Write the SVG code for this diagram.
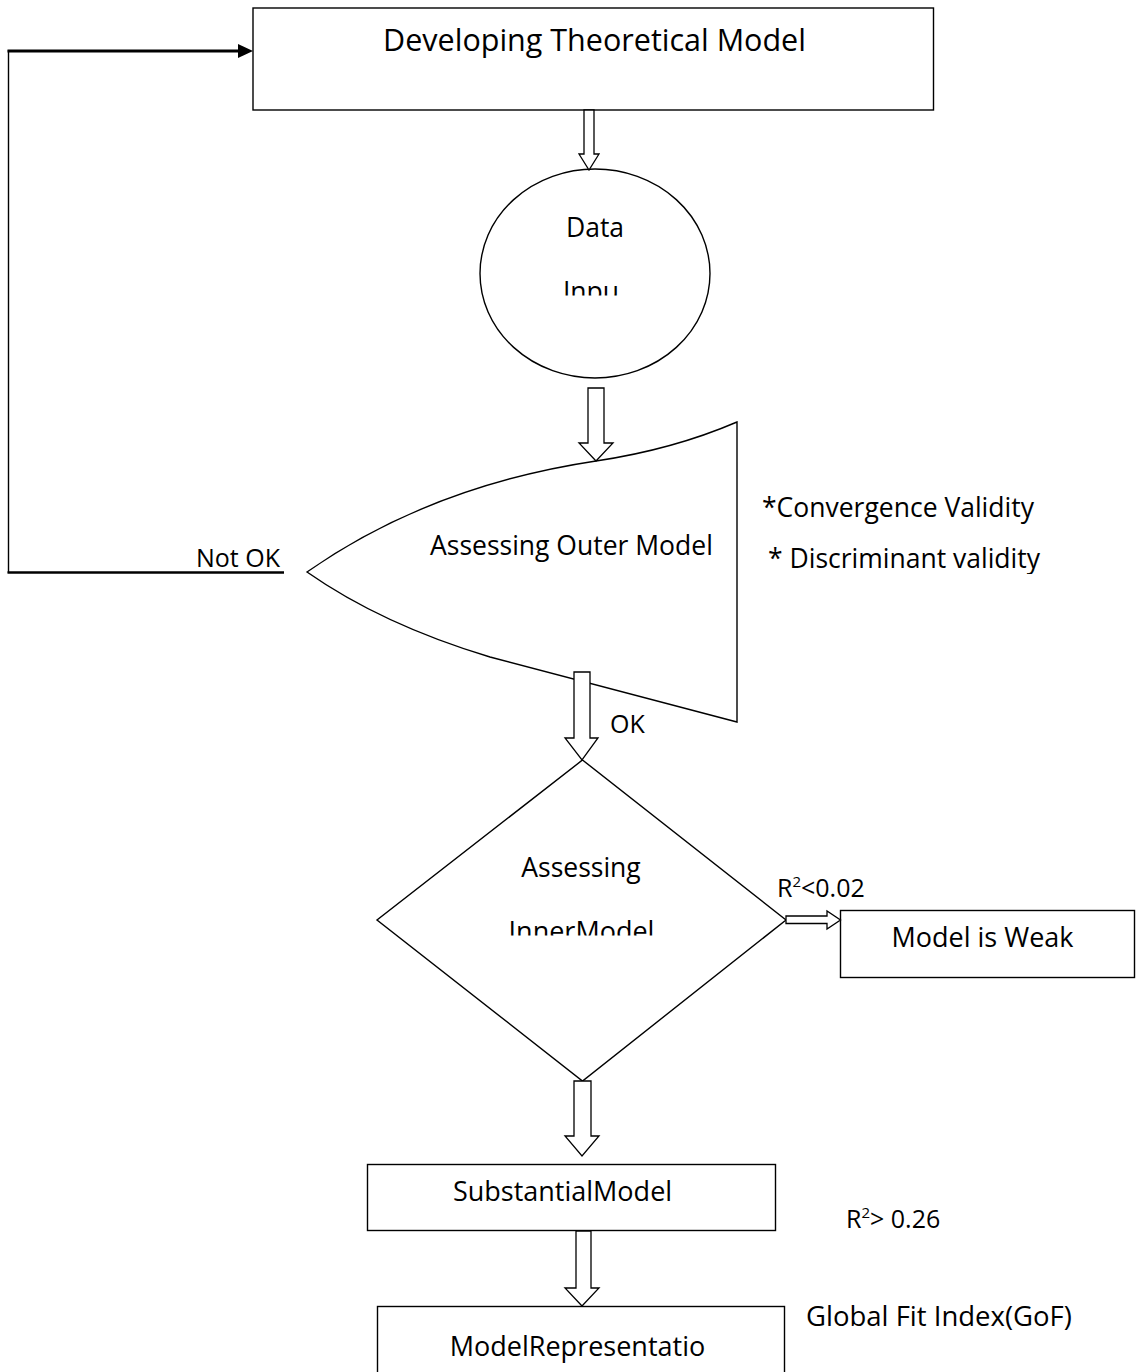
<svg xmlns="http://www.w3.org/2000/svg" width="1139" height="1372" viewBox="0 0 1139 1372">
<style>
.shape{fill:#fff;stroke:#000;stroke-width:1.4}
.barrow{fill:#fff;stroke:#000;stroke-width:1.3;stroke-linejoin:miter}
.t{font-family:"Open Sans","Liberation Sans",sans-serif;fill:#000}
.line{fill:none;stroke:#000}
</style>
<defs>
<clipPath id="clipInpu"><rect x="400" y="200" width="400" height="95.5"/></clipPath>
<clipPath id="clipInner"><rect x="400" y="850" width="400" height="85.5"/></clipPath>
<clipPath id="clipDisc"><rect x="740" y="530" width="400" height="44"/></clipPath>
</defs>
<rect width="1139" height="1372" fill="#fff"/>

<g id="node-theoretical">
<rect class="shape" x="253" y="8" width="680.5" height="102" stroke-width="1.6"/>
<text class="t" x="594.5" y="51" font-size="30.5" text-anchor="middle">Developing Theoretical Model</text>
</g>

<g id="node-data">
<ellipse class="shape" cx="595" cy="273.5" rx="115" ry="104.5"/>
<text class="t" x="595" y="237" font-size="26.5" text-anchor="middle">Data</text>
<text class="t" x="591" y="301" font-size="26.5" text-anchor="middle" clip-path="url(#clipInpu)">Inpu</text>
</g>

<g id="node-outer">
<path class="shape" d="M737 422 L737 722 L490 657 Q382 624.5 307 572 Q430 486 596 461 Q673 449.5 737 422 Z"/>
<text class="t" x="430" y="555" font-size="26.5">Assessing Outer Model</text>
</g>

<g id="note-validity">
<text class="t" x="762" y="517" font-size="26.5">*Convergence Validity</text>
<text class="t" x="768" y="568" font-size="26.5" clip-path="url(#clipDisc)">* Discriminant validity</text>
</g>

<g id="node-inner">
<polygon class="shape" points="582.5,760 786,920 582.5,1081 377,920"/>
<text class="t" x="581" y="877" font-size="26.5" text-anchor="middle">Assessing</text>
<text class="t" x="581.5" y="941" font-size="27" text-anchor="middle" clip-path="url(#clipInner)">InnerModel</text>
</g>

<g id="node-weak">
<rect class="shape" x="840.5" y="910.5" width="294" height="67"/>
<text class="t" x="982.5" y="947" font-size="27" text-anchor="middle">Model is Weak</text>
</g>

<g id="node-substantial">
<rect class="shape" x="367.5" y="1164.5" width="408" height="66"/>
<text class="t" x="562.5" y="1201" font-size="27" text-anchor="middle">SubstantialModel</text>
</g>

<g id="node-representation">
<rect class="shape" x="377.5" y="1306.5" width="407" height="80"/>
<text class="t" x="577.5" y="1356" font-size="27" text-anchor="middle">ModelRepresentatio</text>
</g>

<g id="labels">
<text class="t" x="196" y="567" font-size="25">Not OK</text>
<text class="t" x="610" y="733" font-size="25">OK</text>
<text class="t" x="777" y="897" font-size="25">R<tspan font-size="15" dy="-10">2</tspan><tspan dy="10">&lt;0.02</tspan></text>
<text class="t" x="846" y="1228" font-size="25">R<tspan font-size="15" dy="-10">2</tspan><tspan dy="10">&gt; 0.26</tspan></text>
<text class="t" x="806" y="1326" font-size="27.5">Global Fit Index(GoF)</text>
</g>

<g id="connectors">
<line class="line" stroke-width="2.4" x1="284" y1="572.5" x2="7.5" y2="572.5"/>
<line class="line" stroke-width="1.4" x1="8.5" y1="573" x2="8.5" y2="50"/>
<line class="line" stroke-width="3" x1="7.5" y1="51" x2="240" y2="51"/>
<polygon points="238,44 253,51 238,58" fill="#000"/>
<polygon class="barrow" points="584,110 594,110 594,154 599,154 589,170 579,154 584,154"/>
<polygon class="barrow" points="588,388 604,388 604,443 613,443 596,461 579,443 588,443"/>
<polygon class="barrow" points="574,672 590,672 590,738 598,738 582,760 565,738 574,738"/>
<polygon class="barrow" points="574,1081 591,1081 591,1136 599,1136 582,1156 565,1136 574,1136"/>
<polygon class="barrow" points="576,1231 591,1231 591,1288 599,1288 582,1306 565,1288 576,1288"/>
<polygon class="barrow" points="786,916 827,916 827,911 840.5,920 827,929 827,923.5 786,923.5"/>
</g>
</svg>
